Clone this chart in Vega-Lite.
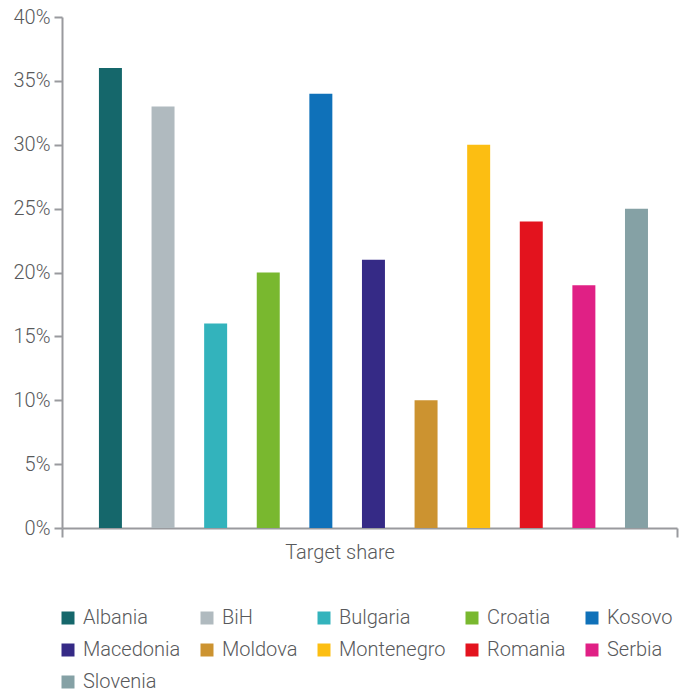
{
  "$schema": "https://vega.github.io/schema/vega-lite/v6.json",
  "autosize": "none",
  "width": 615,
  "height": 511,
  "padding": {"left": 62, "top": 17, "right": 9, "bottom": 165},
  "background": "white",
  "config": {
    "view": {"stroke": null},
    "font": "Roboto",
    "axis": {"grid": false}
  },
  "data": {
    "values": [
      {"group": "Target share", "country": "Albania", "share": 0.36},
      {"group": "Target share", "country": "BiH", "share": 0.33},
      {"group": "Target share", "country": "Bulgaria", "share": 0.16},
      {"group": "Target share", "country": "Croatia", "share": 0.20},
      {"group": "Target share", "country": "Kosovo", "share": 0.34},
      {"group": "Target share", "country": "Macedonia", "share": 0.21},
      {"group": "Target share", "country": "Moldova", "share": 0.10},
      {"group": "Target share", "country": "Montenegro", "share": 0.30},
      {"group": "Target share", "country": "Romania", "share": 0.24},
      {"group": "Target share", "country": "Serbia", "share": 0.19},
      {"group": "Target share", "country": "Slovenia", "share": 0.25}
    ]
  },
  "mark": {"type": "bar"},
  "encoding": {
    "x": {
      "field": "group",
      "type": "nominal",
      "scale": {"paddingInner": 0, "paddingOuter": 0},
      "axis": {
        "title": null,
        "labelAngle": 0,
        "tickBand": "extent",
        "domainColor": "#999a9e",
        "domainWidth": 2,
        "tickColor": "#999a9e",
        "tickWidth": 2,
        "tickSize": 9,
        "labelPadding": 5,
        "labelOffset": -30,
        "labelFont": "Roboto",
        "labelFontWeight": 300,
        "labelFontSize": 20,
        "labelColor": "#58595b"
      }
    },
    "xOffset": {
      "field": "country",
      "type": "nominal",
      "sort": null,
      "scale": {"paddingInner": 0.563, "paddingOuter": 0.627, "align": 0.56}
    },
    "y": {
      "field": "share",
      "type": "quantitative",
      "scale": {"domain": [0, 0.4]},
      "axis": {
        "title": null,
        "format": ".0%",
        "values": [0, 0.05, 0.1, 0.15, 0.2, 0.25, 0.3, 0.35, 0.4],
        "domainColor": "#999a9e",
        "domainWidth": 2,
        "tickColor": "#999a9e",
        "tickWidth": 2,
        "tickSize": 8,
        "labelPadding": 4,
        "labelFont": "Roboto",
        "labelFontWeight": 300,
        "labelFontSize": 20,
        "labelColor": "#58595b"
      }
    },
    "color": {
      "field": "country",
      "type": "nominal",
      "scale": {
        "domain": ["Albania", "BiH", "Bulgaria", "Croatia", "Kosovo", "Macedonia", "Moldova", "Montenegro", "Romania", "Serbia", "Slovenia"],
        "range": ["#15676b", "#b0babf", "#33b3bc", "#79b82f", "#0f71b9", "#352a86", "#cc9330", "#fcbe12", "#e3131e", "#e02085", "#85a1a5"]
      },
      "legend": {
        "title": null,
        "orient": "none",
        "direction": "horizontal",
        "legendX": -4,
        "legendY": 591,
        "columns": 5,
        "columnPadding": 16,
        "rowPadding": 12,
        "symbolType": "square",
        "symbolSize": 169,
        "symbolStrokeWidth": 0,
        "symbolOpacity": 1,
        "labelOffset": 5,
        "labelFont": "Roboto",
        "labelFontWeight": 300,
        "labelFontSize": 20,
        "labelColor": "#58595b",
        "labelLimit": 300
      }
    }
  }
}
